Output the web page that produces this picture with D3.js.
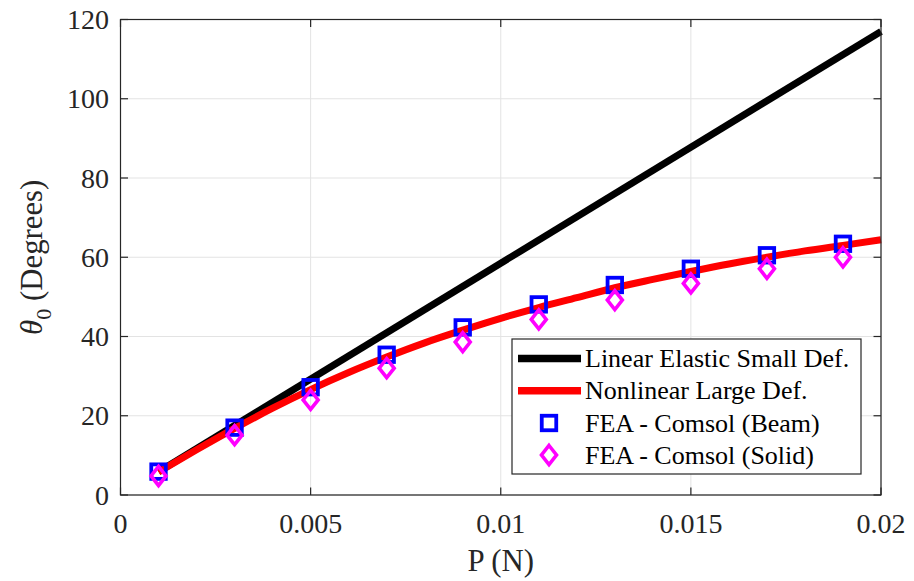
<!DOCTYPE html>
<html>
<head>
<meta charset="utf-8">
<script src="https://cdn.jsdelivr.net/npm/d3@7"></script>
<style>
  body { margin: 0; background: #fff; }
  text { font-family: "Liberation Serif", "Times New Roman", serif; fill: #262626; }
</style>
</head>
<body>
<svg id="chart"></svg>
<script>
const W = 914, H = 581;
const margin = { top: 19.5, right: 33, bottom: 86, left: 120.5 };

// data
const linearP = [0.001, 0.02];
const linearTheta = [5.85, 117];

const nonlinP = [0.001, 0.002, 0.003, 0.004, 0.005, 0.006, 0.007, 0.008, 0.009, 0.010,
                 0.011, 0.012, 0.013, 0.014, 0.015, 0.016, 0.017, 0.018, 0.019, 0.020];
const nonlinTheta = [5.8, 11.4, 16.8, 21.9, 26.6, 30.9, 34.8, 38.4, 41.6, 44.6,
                     47.3, 49.8, 52.3, 54.4, 56.4, 58.3, 60.0, 61.6, 63.0, 64.4];

const feaP = [0.001, 0.003, 0.005, 0.007, 0.009, 0.011, 0.013, 0.015, 0.017, 0.019];
const beamTheta = [5.9, 17.0, 27.2, 35.4, 42.3, 48.1, 53.0, 57.1, 60.5, 63.4];
const solidTheta = [4.8, 15.1, 24.0, 32.0, 38.6, 44.3, 49.2, 53.4, 57.1, 60.0];

const xTicks = [0, 0.005, 0.01, 0.015, 0.02];
const xTickLabels = ["0", "0.005", "0.01", "0.015", "0.02"];
const yTicks = [0, 20, 40, 60, 80, 100, 120];

const legendLabels = ["Linear Elastic Small Def.", "Nonlinear Large Def.",
                      "FEA - Comsol (Beam)", "FEA - Comsol (Solid)"];

const svg = d3.select("#chart").attr("width", W).attr("height", H);

const x = d3.scaleLinear().domain([0, 0.02]).range([margin.left, W - margin.right]);
const y = d3.scaleLinear().domain([0, 120]).range([H - margin.bottom, margin.top]);

const axisColor = "#262626";
const tickLen = 7.5;

// grid
const grid = svg.append("g");
grid.selectAll(".gx").data(xTicks).enter().append("line")
    .attr("x1", d => x(d)).attr("x2", d => x(d))
    .attr("y1", y(0)).attr("y2", y(120))
    .attr("stroke", "#e3e3e3").attr("stroke-width", 1);
grid.selectAll(".gy").data(yTicks).enter().append("line")
    .attr("x1", x(0)).attr("x2", x(0.02))
    .attr("y1", d => y(d)).attr("y2", d => y(d))
    .attr("stroke", "#e3e3e3").attr("stroke-width", 1);

// lines
const line = d3.line().x(d => x(d[0])).y(d => y(d[1]));
svg.append("path")
    .datum(linearP.map((p, i) => [p, linearTheta[i]]))
    .attr("d", line)
    .attr("fill", "none").attr("stroke", "#000").attr("stroke-width", 7);

svg.append("path")
    .datum(nonlinP.map((p, i) => [p, nonlinTheta[i]]))
    .attr("d", line.curve(d3.curveMonotoneX))
    .attr("fill", "none").attr("stroke", "#ff0000").attr("stroke-width", 7);

// markers
const sq = 14.5;
const diamond = "M0,-9.5L7.5,0L0,9.5L-7.5,0Z";

svg.append("g").selectAll("rect").data(feaP).enter().append("rect")
    .attr("x", (d) => x(d) - sq / 2)
    .attr("y", (d, i) => y(beamTheta[i]) - sq / 2)
    .attr("width", sq).attr("height", sq)
    .attr("fill", "none").attr("stroke", "#0000ff").attr("stroke-width", 3.8);

svg.append("g").selectAll("path").data(feaP).enter().append("path")
    .attr("d", diamond)
    .attr("transform", (d, i) => `translate(${x(d)},${y(solidTheta[i])})`)
    .attr("fill", "none").attr("stroke", "#ff00ff").attr("stroke-width", 3.6);

// axes box with inward ticks
const x0 = x(0), x1 = x(0.02), y0 = y(0), y1 = y(120);
svg.append("rect")
    .attr("x", x0).attr("y", y1).attr("width", x1 - x0).attr("height", y0 - y1)
    .attr("fill", "none").attr("stroke", axisColor).attr("stroke-width", 1.2);

const ticks = svg.append("g").attr("stroke", axisColor).attr("stroke-width", 1.2);
xTicks.forEach(t => {
    ticks.append("line").attr("x1", x(t)).attr("x2", x(t)).attr("y1", y0).attr("y2", y0 - tickLen);
    ticks.append("line").attr("x1", x(t)).attr("x2", x(t)).attr("y1", y1).attr("y2", y1 + tickLen);
});
yTicks.forEach(t => {
    ticks.append("line").attr("x1", x0).attr("x2", x0 + tickLen).attr("y1", y(t)).attr("y2", y(t));
    ticks.append("line").attr("x1", x1).attr("x2", x1 - tickLen).attr("y1", y(t)).attr("y2", y(t));
});

// tick labels
svg.append("g").selectAll("text").data(xTicks).enter().append("text")
    .attr("x", d => x(d)).attr("y", 533)
    .attr("text-anchor", "middle").attr("font-size", 28)
    .text((d, i) => xTickLabels[i]);

svg.append("g").selectAll("text").data(yTicks).enter().append("text")
    .attr("x", 109).attr("y", d => y(d)).attr("dy", "0.34em")
    .attr("text-anchor", "end").attr("font-size", 28)
    .text(d => d);

// axis labels
svg.append("text")
    .attr("x", (x0 + x1) / 2).attr("y", 571)
    .attr("text-anchor", "middle").attr("font-size", 30.8)
    .text("P (N)");

const yl = svg.append("text")
    .attr("transform", `translate(42,${(y0 + y1) / 2}) rotate(-90)`)
    .attr("text-anchor", "middle").attr("font-size", 30.8);
yl.append("tspan").attr("font-style", "italic").text("θ");
yl.append("tspan").attr("font-size", 22).attr("dy", 9).text("0");
yl.append("tspan").attr("dy", -9).text(" (Degrees)");

// legend
const leg = svg.append("g");
leg.append("rect")
    .attr("x", 512).attr("y", 339).attr("width", 349).attr("height", 135)
    .attr("fill", "#fff").attr("stroke", axisColor).attr("stroke-width", 1.2);

const rowY = [358.5, 390.8, 423, 455];
leg.append("line").attr("x1", 518).attr("x2", 581).attr("y1", rowY[0]).attr("y2", rowY[0])
    .attr("stroke", "#000").attr("stroke-width", 7.5);
leg.append("line").attr("x1", 518).attr("x2", 581).attr("y1", rowY[1]).attr("y2", rowY[1])
    .attr("stroke", "#ff0000").attr("stroke-width", 7.5);
leg.append("rect").attr("x", 549 - sq / 2).attr("y", rowY[2] - sq / 2)
    .attr("width", sq).attr("height", sq)
    .attr("fill", "none").attr("stroke", "#0000ff").attr("stroke-width", 3.8);
leg.append("path").attr("d", diamond).attr("transform", `translate(549,${rowY[3]})`)
    .attr("fill", "none").attr("stroke", "#ff00ff").attr("stroke-width", 3.6);

leg.selectAll(".lt").data(legendLabels).enter().append("text")
    .attr("x", 585).attr("y", (d, i) => rowY[i]).attr("dy", "0.33em")
    .attr("font-size", 26).style("fill", "#000")
    .text(d => d);
</script>
</body>
</html>
